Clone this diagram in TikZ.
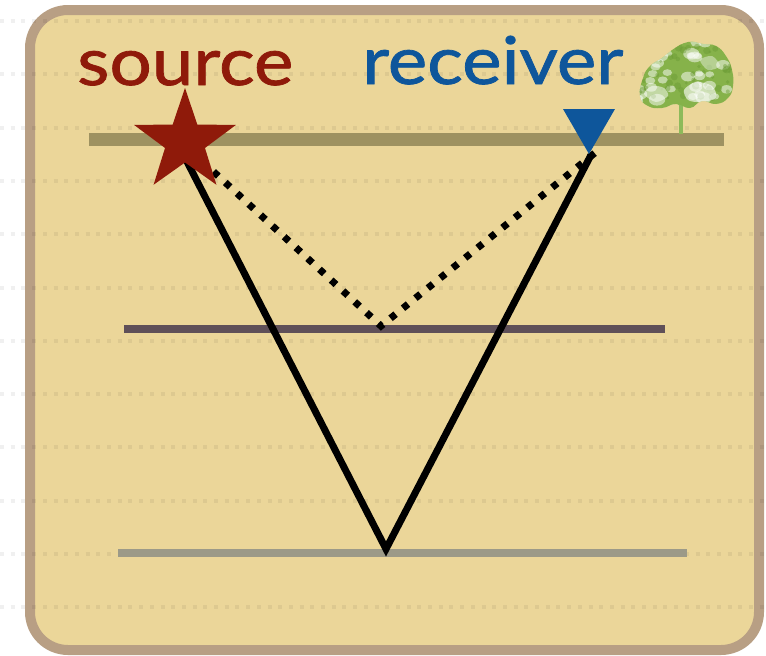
\documentclass[tikz,border=0pt]{standalone}
\usepackage{fontspec}
\newfontfamily\labelfont[FakeBold=1.2, FakeStretch=1.13]{Lato}
\usetikzlibrary{shapes.geometric}
\definecolor{boxfill}{HTML}{EBD699}
\definecolor{boxedge}{HTML}{B89F84}
\definecolor{surface}{HTML}{9E9261}
\definecolor{layerA}{HTML}{5F5058}
\definecolor{layerB}{HTML}{9C9A88}
\definecolor{srcred}{HTML}{8F1A0A}
\definecolor{rcvblue}{HTML}{0E569B}
\definecolor{leaf}{HTML}{86B24A}
\definecolor{leafdark}{HTML}{6A9A34}
\definecolor{bark}{HTML}{8DBA5A}
\tikzset{
  layer/.style={line width=#1, line cap=butt},
  ray/.style={line width=7pt, line join=miter, black},
  dottedray/.style={line width=7pt, black, dash pattern=on 6.5pt off 9.5pt},
  label/.style={inner sep=0pt, anchor=base west, font=\labelfont\fontsize{66}{70}\selectfont},
  gridline/.style={line width=4pt, black, opacity=0.06, dash pattern=on 4pt off 6.7pt}
}
\begin{document}
\begin{tikzpicture}[x=1pt,y=-1pt]
\useasboundingbox (0,0) rectangle (766,656);
% panel
\draw[line width=10pt, draw=boxedge, fill=boxfill, rounded corners=38pt] (30,10) rectangle (759,650);
% faint guide lines
\foreach \k in {0,...,11} {
  \draw[gridline] (0,21+53.3*\k) -- (766,21+53.3*\k);
}
% strata
\draw[layer=13pt, surface] (89,139.5) -- (724,139.5);
\draw[layer=8pt, layerA] (124,329) -- (665,329);
\draw[layer=8pt, layerB] (118,553) -- (687,553);
% ray end points
\coordinate (s1) at (180,148);
\coordinate (s2) at (190,150);
\coordinate (deep) at (386,549);
\coordinate (shallow) at (381,326);
\coordinate (r1) at (591,155);
\coordinate (r2) at (596,152);
% rays
\draw[ray] (s1) -- (deep) -- (r1);
\draw[dottedray] (s2) -- (shallow) -- (r2);
% source and receiver
\node[star, star points=5, star point ratio=2.55, minimum size=107pt, inner sep=0pt, fill=srcred] (src) at (185,141.5) {};
\node[regular polygon, regular polygon sides=3, shape border rotate=180, minimum size=60pt, inner sep=0pt, fill=rcvblue] (rcv) at (589,124) {};
\node[label, text=srcred] (srclabel) at (77,85) {source};
\node[label, text=rcvblue] (rcvlabel) at (362,84) {receiver};
% tree: trunk, then a mottled crown
\draw[bark, line width=3.5pt] (681,134) -- (681,100);
\draw[bark, line width=1.5pt] (681,106) -- (673,99);
\draw[bark, line width=1.5pt] (681,104) -- (689,97);
\begin{scope}
  \path[clip] plot[smooth cycle, tension=0.8] coordinates {
    (640,96) (643,78) (650,66) (662,58) (672,50) (688,42) (703,44)
    (716,46) (726,56) (732,70) (733,86) (728,98) (716,104) (702,101)
    (690,108) (676,104) (662,108) (648,106)};
  \fill[leaf] (630,30) rectangle (740,115);
  \pgfmathsetseed{11}
  \foreach \i in {1,...,45} {
    \pgfmathsetmacro{\px}{638+97*rnd}
    \pgfmathsetmacro{\py}{40+70*rnd}
    \pgfmathsetmacro{\pr}{2.5+3.5*rnd}
    \fill[white, opacity=0.5] (\px,\py) ellipse[x radius=1.4*\pr, y radius=\pr];
  }
  \foreach \i in {1,...,50} {
    \pgfmathsetmacro{\px}{638+97*rnd}
    \pgfmathsetmacro{\py}{40+70*rnd}
    \pgfmathsetmacro{\pr}{1.5+2.5*rnd}
    \fill[leafdark, opacity=0.45] (\px,\py) circle[radius=\pr];
  }
  \fill[white, opacity=0.6] plot[smooth cycle] coordinates {(684,90) (696,82) (712,86) (716,98) (700,102) (688,100)};
  \fill[white, opacity=0.5] plot[smooth cycle] coordinates {(644,94) (652,86) (664,88) (668,96) (656,102)};
  \fill[white, opacity=0.4] plot[smooth cycle] coordinates {(700,60) (712,56) (720,66) (708,70)};
\end{scope}
\end{tikzpicture}
\end{document}
